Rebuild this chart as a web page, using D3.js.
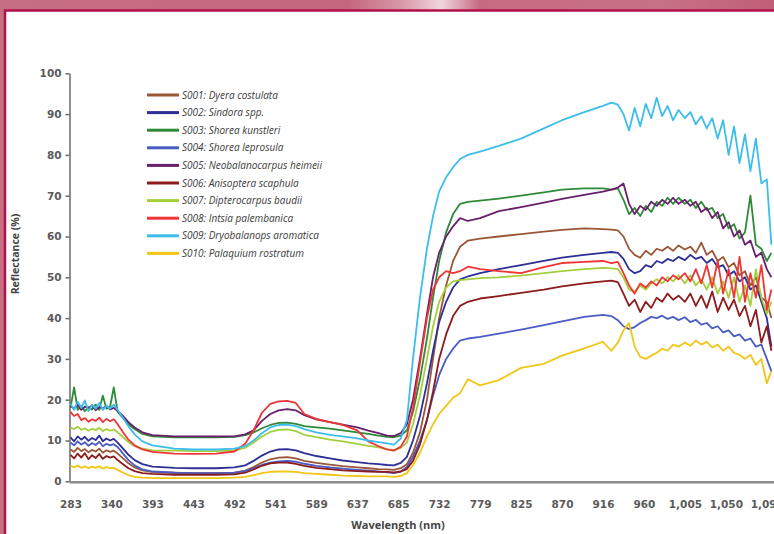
<!DOCTYPE html>
<html>
<head>
<meta charset="utf-8">
<script src="https://cdn.jsdelivr.net/npm/d3@7"></script>
<style>
  html, body { margin: 0; padding: 0; overflow: hidden; }
  svg { display: block; }
</style>
</head>
<body>
<svg id="chart" width="774" height="534"></svg>
<script>
// wavelength grid (nm) shared by every spectrum
const wavelengths = [
  283, 288, 293, 298, 303, 308, 313, 318, 323, 328, 333, 338, 343, 348, 355, 362, 370, 380,
  393, 420, 443, 470, 492, 505, 515, 525, 535, 545, 555, 565, 575, 589, 605, 620, 637, 650, 662, 672, 680,
  688, 695, 702, 710, 718, 725, 732, 740, 748, 756, 765, 779,
  800, 825, 850, 870, 895, 916, 925, 932,
  938, 944, 950, 956, 962, 968, 974, 980, 986, 992, 998, 1005, 1011, 1017, 1023, 1029, 1035,
  1041, 1047, 1053, 1059, 1065, 1071, 1077, 1083, 1089, 1095, 1100
];

// x axis is a category axis in the original: labels are evenly spaced
const tickValues = [283, 340, 393, 443, 492, 541, 589, 637, 685, 732, 779, 825, 870, 916, 960, 1005, 1050, 1095];
const tickLabels = ["283", "340", "393", "443", "492", "541", "589", "637", "685", "732", "779", "825", "870", "916", "960", "1,005", "1,050", "1,095"];
const yTicks = [0, 10, 20, 30, 40, 50, 60, 70, 80, 90, 100];

const seriesNames = [
  "S001: Dyera costulata",
  "S002: Sindora spp.",
  "S003: Shorea kunstleri",
  "S004: Shorea leprosula",
  "S005: Neobalanocarpus heimeii",
  "S006: Anisoptera scaphula",
  "S007: Dipterocarpus baudii",
  "S008: Intsia palembanica",
  "S009: Dryobalanops aromatica",
  "S010: Palaquium rostratum"
];
const seriesColors = ["#9a5636", "#2c2f95", "#2f8a37", "#4a5cc4", "#6a1f6c", "#8c1b1d", "#a4cf3c", "#ef3535", "#3dbdeb", "#f1c615"];

// reflectance (%), one value per wavelength
const s001 = [
  7.8, 7.2, 8.2, 7.4, 7.9, 7.1, 7.7, 7.3, 8, 7, 7.6, 7.2, 7.5, 6.8, 5.6, 4.4, 3.4, 2.7,
  2.3, 2.1, 2.0, 2.0, 2.1, 2.6, 3.5, 4.6, 5.4, 5.8, 5.9, 5.6, 5.0, 4.5, 4.1, 3.7, 3.4, 3.2, 3.0, 2.9, 2.8,
  3.2, 4.2, 7, 12, 20, 30, 40, 48, 54, 57.5, 59, 59.5,
  60, 60.6, 61.2, 61.6, 62, 61.8, 61.7, 61.5,
  60, 57, 55.5, 54.8, 56.5, 55.5, 57, 56.5, 57.5, 56.5, 57.8, 56.8, 57.5, 56, 58.5, 55.5, 56.5,
  54, 55, 52.5, 53.5, 50.5, 51.5, 48, 50, 45, 44, 40
];
const s002 = [
  10.8, 9.8, 11, 10.2, 10.9, 9.9, 10.6, 10.1, 11.2, 9.8, 10.5, 10, 10.4, 9.5, 8, 6.5, 5.2, 4.2,
  3.6, 3.3, 3.2, 3.2, 3.4, 3.9, 5, 6.3, 7.3, 7.8, 7.9, 7.6, 6.9, 6.2, 5.6, 5.1, 4.7, 4.4, 4.2, 4.0, 3.9,
  4.5, 6, 10, 16, 24, 32, 39, 44, 47.5, 49.5, 50.2, 51,
  52, 53, 54, 54.8, 55.5, 56, 56.2, 56,
  54.5, 52, 51, 51.5, 53, 52.5, 54, 53.5, 54.5, 54, 55, 54.2, 55.5, 54.5, 55, 53.5, 54.5,
  52.5, 53, 50.5, 51.5, 49, 50, 47, 48, 44, 40, 33
];
const s003 = [
  18, 23, 17.5, 18.5, 17.2, 18.2, 17.6, 18.8, 17.5, 21, 17.8, 18.2, 23, 17, 15.5, 14, 12.8, 11.6,
  11, 10.8, 10.8, 10.8, 10.9, 11.3, 12, 13, 13.8, 14.3, 14.4, 14.1, 13.5, 13.2, 12.9, 12.5, 12, 11.6, 11.2, 10.9, 10.8,
  11.2, 12.5, 17, 25, 35, 45, 54, 61, 65.5, 68, 68.5, 68.8,
  69.3, 70, 70.8, 71.5, 71.8, 71.8, 71.5, 71.8,
  69, 65.5, 67, 65, 67.5, 66, 68.5, 67.5, 69.5, 68, 69.5, 68, 69, 67, 68.5, 66.5, 67,
  64.5, 65.5, 62, 63, 59.5, 61, 70, 58, 57, 54, 56
];
const s004 = [
  9.5, 8.8, 9.8, 9, 9.6, 8.7, 9.4, 8.9, 9.7, 8.6, 9.2, 8.8, 9.1, 8.4, 6.8, 5.2, 3.9, 2.9,
  2.4, 2.1, 2.0, 2.0, 2.1, 2.5, 3.2, 4.0, 4.6, 4.9, 5.0, 4.8, 4.3, 3.8, 3.4, 3.1, 2.8, 2.6, 2.4, 2.2, 2.0,
  2.4, 3.5, 6, 10, 15, 21, 26, 30, 32.5, 34.5, 35, 35.4,
  36.2, 37.2, 38.3, 39.2, 40.3, 40.8, 40.5, 39.5,
  38, 37.3, 37.8, 38.8, 39.5, 40.3, 40, 40.6, 39.8, 40.3, 39.5, 40.2, 39, 39.6, 38.4, 38.8, 37.5,
  38, 36.5, 37, 35.5, 36, 34.5, 35, 33, 33.5, 30, 27
];
const s005 = [
  18.5, 17.8, 18.8, 17.5, 18.3, 17.9, 18.6, 17.4, 18.2, 17.8, 18.5, 17.6, 18.0, 17.2, 16, 14.5, 13.2, 12,
  11.3, 11, 11, 11, 11, 11.5, 12.5, 14.8, 16.5, 17.4, 17.7, 17.4, 16.2, 15.2, 14.5, 13.9, 13.2, 12.4, 11.8, 11.2, 11.1,
  11.8, 14, 20, 30, 41, 50, 56, 60, 62.5, 64.5, 63.8, 64.5,
  66.2, 67.2, 68.3, 69.2, 70.2, 71, 71.5, 72,
  73, 68, 65.5, 67.5, 66.5, 68.5, 67.5, 69, 68, 69.5, 68, 69, 67.5, 68.5, 66, 67, 64.5,
  66, 62, 63.5, 60, 61.5, 58, 59, 55, 56, 52, 50
];
const s006 = [
  6.5, 5.6, 6.8, 5.8, 6.9, 5.4, 6.4, 5.7, 6.7, 5.5, 6.2, 5.8, 6.1, 5.2, 4.2, 3.2, 2.5, 2.0,
  1.8, 1.6, 1.6, 1.6, 1.7, 2.1, 2.9, 3.8, 4.4, 4.6, 4.6, 4.3, 3.8, 3.3, 3.0, 2.7, 2.5, 2.4, 2.3, 2.3, 2.2,
  2.4, 3, 5, 9, 15, 22, 30, 36, 40.5, 43, 44, 44.8,
  45.4, 46.2, 47, 47.8, 48.5, 49, 49.2, 48.8,
  46, 43, 44.5, 41.5, 44, 42.5, 45, 44, 46, 44.5, 45.5, 44, 46, 43, 45.5, 42.5, 46.5,
  41.5, 45, 42, 44.5, 40.5, 43, 38, 42, 34, 38, 32
];
const s007 = [
  13.2, 12.8, 13.4, 12.6, 13, 12.4, 12.9, 12.5, 13.1, 12.3, 12.8, 12.4, 12.7, 12, 10.8, 9.6, 8.6, 8,
  7.6, 7.5, 7.4, 7.4, 7.6, 8.2, 9.5, 11, 12.1, 12.6, 12.7, 12.3, 11.4, 10.8, 10.2, 9.8, 9.2, 8.7, 8.3, 7.8, 7.7,
  8.2, 9.5, 14, 21, 30, 38, 44, 47.5, 49, 49.3, 49.5, 49.8,
  50, 50.4, 51, 51.5, 52, 52.3, 52.2, 52,
  50, 47, 46.5, 48, 47, 48.5, 49.5, 48.5, 50, 49, 50.5, 48.5, 50.5, 48, 49.5, 47, 50,
  46, 49, 45, 50, 44, 48, 43, 52, 45, 41, 44
];
const s008 = [
  17, 16, 16.5, 15, 15.5, 14.6, 15.2, 14.8, 15.6, 14.5, 15.3, 14.7, 15.2, 14, 12, 10.2, 8.8, 7.8,
  7.2, 6.8, 6.7, 6.8, 7.3, 9.2, 12.5, 16.8, 19, 19.6, 19.7, 19.2, 16.5, 15.3, 14.5, 13.8, 12.5, 9.8, 8.6, 7.8, 7.5,
  8.5, 11, 18, 29, 40, 47, 50, 51.5, 51, 51.5, 52.6, 52,
  51.5, 51, 52.5, 53.5, 53.8, 54, 53.5, 53.8,
  51, 48, 46, 48.5, 47.5, 49, 48, 50, 49, 50.5, 49.5, 51, 49, 52, 48.5, 53, 47.5,
  54, 46, 52, 45, 55, 44, 51, 45, 53, 42, 47
];
const s009 = [
  19, 17.5, 19.5, 18, 19.8, 17.2, 18.8, 17.8, 19.2, 17.5, 18.5, 17.8, 18.8, 17.5, 15.5, 13.5, 11.5, 9.8,
  8.8, 8.0, 7.8, 7.8, 8.0, 8.6, 10, 11.8, 13.2, 13.8, 13.9, 13.5, 12.8, 12, 11.4, 11, 10.5, 10, 9.6, 9.3, 9.0,
  10.5, 15, 30, 45, 57, 65, 71, 74.5, 77, 79, 80, 80.8,
  82.2, 84, 86.5, 88.5, 90.5, 92, 92.8, 92.3,
  90, 86, 91.5, 87, 92.5, 89, 94, 89.5, 92, 88.5, 91, 89, 90.5, 87.5, 89.5, 86.5, 89,
  84, 88.5, 80, 87, 78, 85, 76, 84, 73, 74, 58
];
const s010 = [
  3.8, 3.4, 3.9, 3.3, 3.7, 3.2, 3.6, 3.3, 3.7, 3.1, 3.5, 3.2, 3.3, 2.8, 2.1, 1.5, 1.1, 0.9,
  0.8, 0.8, 0.8, 0.8, 0.9, 1.1, 1.5, 2.0, 2.3, 2.4, 2.4, 2.3, 2.0, 1.8, 1.6, 1.4, 1.3, 1.2, 1.2, 1.2, 1.1,
  1.3, 2, 4, 7, 11, 14, 16.5, 18.5, 20.5, 21.6, 25, 23.5,
  24.8, 27.8, 28.8, 30.8, 32.6, 34.2, 32, 34,
  37, 38.8, 33, 30.5, 30, 30.8, 31.5, 32.5, 32, 33.5, 33, 34, 33.2, 34.5, 33.5, 34.2, 32.8,
  33.5, 32, 33, 31.5, 31, 30, 31, 28.5, 30, 24, 27
];
const seriesValues = [s001, s002, s003, s004, s005, s006, s007, s008, s009, s010];

const W = 774, H = 534;
const svg = d3.select("#chart");

// photo background around the white panel
const defs = svg.append("defs");
const bg = defs.append("linearGradient").attr("id", "bg").attr("x1", 0).attr("x2", 1).attr("y1", 0).attr("y2", 0);
[[0, "#c66f82"], [0.45, "#c4677d"], [0.52, "#d99aa8"], [0.57, "#f0d6dc"], [0.62, "#c66a80"], [0.85, "#c77286"], [1, "#bf5f77"]]
  .forEach(s => bg.append("stop").attr("offset", s[0]).attr("stop-color", s[1]));
svg.append("rect").attr("width", W).attr("height", H).attr("fill", "url(#bg)");
svg.append("rect")
  .attr("x", 5).attr("y", 10.5).attr("width", W + 20).attr("height", H + 20)
  .attr("fill", "#fff").attr("stroke", "#b0124c").attr("stroke-width", 2.5);

// scales
const x0 = 70.5, step = 40.96;
const x = d3.scaleLinear()
  .domain(tickValues)
  .range(tickValues.map((d, i) => x0 + i * step));
const y = d3.scaleLinear().domain([0, 100]).range([481.3, 73.3]);

const fontTick = "'DejaVu Sans', sans-serif";

// y axis
const gY = svg.append("g")
  .attr("transform", `translate(${x0 - 1},0)`)
  .call(d3.axisLeft(y).tickValues(yTicks).tickSize(4).tickPadding(4).tickSizeOuter(0));
gY.select(".domain").attr("stroke", "#6a6a6a").attr("stroke-width", 1.5);
gY.selectAll(".tick line").attr("stroke", "#6a6a6a").attr("stroke-width", 1.5);
gY.selectAll(".tick text")
  .attr("font-family", fontTick).attr("font-size", 10.5).attr("font-weight", "bold").attr("fill", "#5a5a5a");

// spectra
const line = d3.line()
  .x((d, i) => x(wavelengths[i]))
  .y(d => y(d));
svg.append("g")
  .selectAll("path")
  .data(seriesValues)
  .join("path")
  .attr("d", d => line(d))
  .attr("fill", "none")
  .attr("stroke", (d, i) => seriesColors[i])
  .attr("stroke-width", 1.8)
  .attr("stroke-linejoin", "round");

// x axis
const gX = svg.append("g")
  .attr("transform", `translate(0,${y(0) + 1})`)
  .call(d3.axisBottom(x).tickValues(tickValues).tickFormat((d, i) => tickLabels[i]).tickSize(0).tickPadding(18));
gX.select(".domain").attr("d", `M${x0 - 1},0H${W + 5}`).attr("stroke", "#8c8c8c").attr("stroke-width", 2.5);
gX.selectAll(".tick text")
  .attr("font-family", fontTick).attr("font-size", 10.5).attr("font-weight", "bold").attr("fill", "#5a5a5a");

// axis titles
svg.append("text")
  .attr("x", 398).attr("y", 529)
  .attr("text-anchor", "middle")
  .attr("font-family", "'Open Sans', sans-serif").attr("font-size", 11).attr("font-weight", "bold").attr("fill", "#444")
  .text("Wavelength (nm)");
svg.append("text")
  .attr("transform", "translate(19,254) rotate(-90)")
  .attr("text-anchor", "middle")
  .attr("font-family", "'Open Sans', sans-serif").attr("font-size", 10.5).attr("font-weight", "bold").attr("fill", "#444")
  .text("Reflectance (%)");

// legend
const legend = svg.append("g").attr("transform", "translate(147,95)");
const rows = legend.selectAll("g")
  .data(seriesNames)
  .join("g")
  .attr("transform", (d, i) => `translate(0,${i * 17.6})`);
rows.append("line")
  .attr("x1", 0).attr("x2", 32)
  .attr("stroke", (d, i) => seriesColors[i])
  .attr("stroke-width", 3);
rows.append("text")
  .attr("x", 35).attr("dy", "0.35em")
  .attr("font-family", "'Open Sans', sans-serif").attr("font-size", 10).attr("font-style", "italic")
  .attr("fill", "#3a3a3a")
  .text(d => d);
</script>
</body>
</html>
